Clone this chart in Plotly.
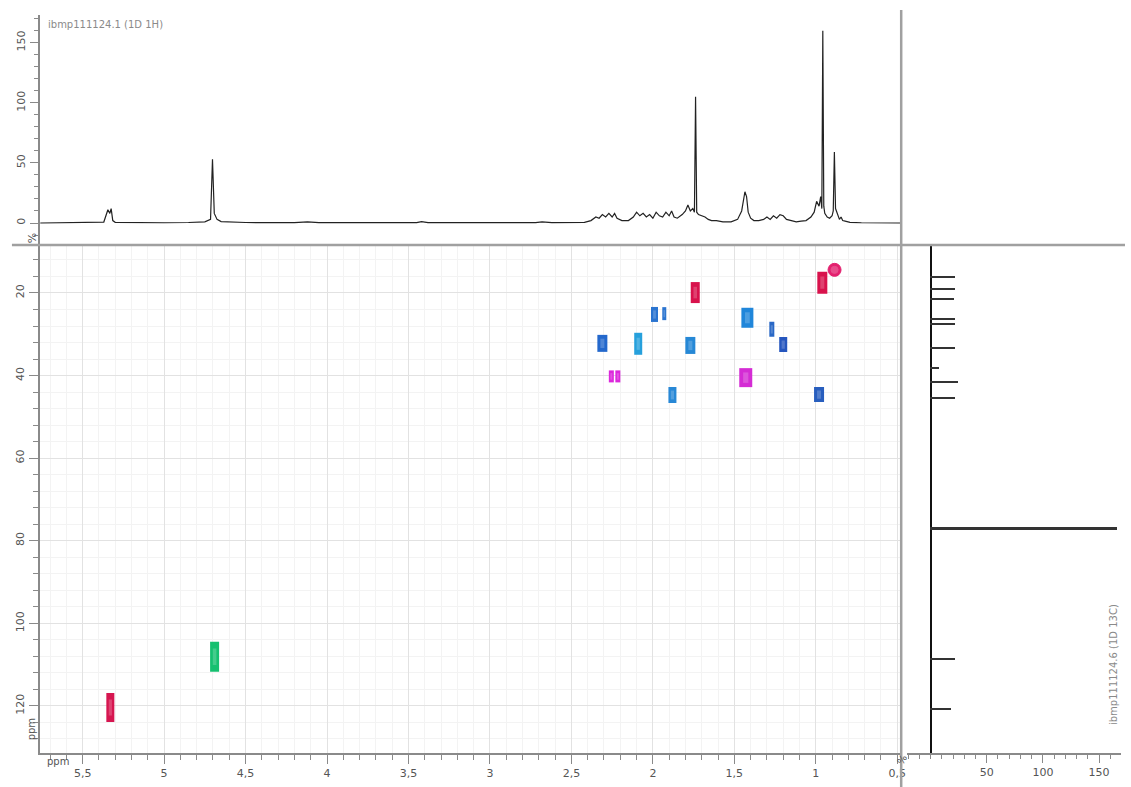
import plotly.graph_objects as go

# ---------------- data ----------------
# 1D 1H spectrum trace (ppm, intensity %)
h1_ppm = [5.76, 5.45, 5.37, 5.345, 5.333, 5.325, 5.315, 5.30, 5.2, 5.0, 4.85, 4.75, 4.715, 4.703, 4.692, 4.675, 4.65, 4.5,
          4.2, 4.12, 4.05, 3.45, 3.42, 3.38, 2.72, 2.68, 2.62, 2.42, 2.38, 2.35, 2.33, 2.31, 2.29, 2.27, 2.25, 2.235, 2.22,
          2.19, 2.15, 2.12, 2.10, 2.08, 2.06, 2.04, 2.02, 2.00, 1.98, 1.96, 1.94, 1.92, 1.90, 1.885, 1.87, 1.85,
          1.82, 1.80, 1.785, 1.77, 1.755, 1.745, 1.738, 1.731, 1.72, 1.70, 1.68, 1.66, 1.64, 1.61, 1.57, 1.52,
          1.48, 1.455, 1.435, 1.425, 1.415, 1.40, 1.38, 1.35, 1.32, 1.30, 1.28, 1.26, 1.24, 1.22, 1.20, 1.18, 1.15,
          1.12, 1.09, 1.06, 1.03, 1.01, 0.995, 0.98, 0.97, 0.963, 0.957, 0.951, 0.945, 0.93, 0.915, 0.90, 0.893,
          0.886, 0.879, 0.87, 0.855, 0.845, 0.835, 0.82, 0.79, 0.72, 0.48]
h1_int = [0, 0.3, 0.8, 11, 8, 12, 2, 0.6, 0.3, 0.2, 0.4, 1.0, 3, 53, 8, 3, 1.2, 0.4,
          0.3, 1.0, 0.3, 0.3, 1.2, 0.3, 0.3, 1.0, 0.3, 0.5, 2, 5, 4, 7, 5, 8, 5, 8, 4,
          2, 2, 5, 9, 6, 8, 5, 7, 4, 9, 6, 5, 9, 6, 10, 5, 4,
          7, 10, 15, 10, 12, 9, 105, 9, 7, 6, 5, 3, 2, 2, 1, 1,
          3, 10, 26, 22, 9, 4, 2, 2, 3, 5, 3, 6, 4, 7, 6, 3, 2,
          1, 1.5, 2, 5, 9, 18, 14, 22, 12, 160, 14, 8, 5, 4, 6, 10,
          59, 12, 8, 3, 5, 2, 1.5, 0.6, 0.2, 0]

# 1D 13C stick spectrum (ppm, intensity %)
c13_ppm = [16.1, 19.0, 21.5, 26.3, 27.5, 33.3, 38.2, 41.5, 45.4, 77.0, 108.6, 120.7]
c13_int = [22, 22, 21, 22, 22, 22, 8, 25, 22, 166, 22, 18]

# HSQC cross peaks (1H ppm, 13C ppm)
hsqc_h = [0.885, 0.96, 1.74, 1.99, 1.93, 2.31, 2.09, 1.77, 2.255, 2.215, 1.88, 1.42, 1.27, 1.20, 1.43, 0.98, 5.33, 4.69]
hsqc_c = [14.4, 17.5, 19.9, 25.2, 25.0, 32.2, 32.3, 32.7, 40.2, 40.2, 44.7, 26.0, 28.8, 32.5, 40.5, 44.6, 120.4, 108.1]

# tick labels
x_tickvals = [5.5, 5, 4.5, 4, 3.5, 3, 2.5, 2, 1.5, 1, 0.5]
x_ticktext = ["5,5", "5", "4,5", "4", "3,5", "3", "2,5", "2", "1,5", "1", "0,5"]
y_tickvals = [20, 40, 60, 80, 100, 120]
top_tickvals = [0, 50, 100, 150]
right_tickvals = [50, 100, 150]

# ---------------- styles ----------------
peak_colors = ["#e3206e", "#d8124c", "#d8124c", "#2a74d0", "#2a74d0", "#2468cc", "#26a0dc", "#2688d6",
               "#dc28dc", "#dc28dc", "#2888d6", "#2086da", "#2a68c6", "#2656be", "#d42cd4", "#285ebe",
               "#d61650", "#16c070"]
peak_w = [13, 10, 9, 7, 4, 10, 8, 10, 5, 5, 8, 12, 5, 8, 13, 10, 8, 9]   # px
peak_h = [13, 22, 21, 15, 13, 17, 22, 17, 12, 12, 16, 20, 15, 15, 19, 15, 29, 30]  # px
peak_sym = ["circle" if i == 0 else "line-ns" for i in range(len(hsqc_h))]


def lighten(hexcol, f):
    r, g, b = int(hexcol[1:3], 16), int(hexcol[3:5], 16), int(hexcol[5:7], 16)
    return "#%02x%02x%02x" % tuple(int(c + (255 - c) * f) for c in (r, g, b))


W, H = 1131, 787
def px(xp): return xp / W
def py(yp): return 1 - yp / H

FONT = "DejaVu Sans"
GRAY_TXT = "#555555"
AXIS = "#8a8a8a"

fig = go.Figure()

# HSQC peaks (outer contour body)
sizes = [h / 1.4 if s == "line-ns" else h for s, h in zip(peak_sym, peak_h)]
fig.add_trace(go.Scatter(
    x=hsqc_h, y=hsqc_c, mode="markers", xaxis="x", yaxis="y", showlegend=False, hoverinfo="x+y",
    marker=dict(symbol=peak_sym, size=sizes, color=peak_colors, opacity=1,
                line=dict(color=peak_colors, width=[1 if s == "circle" else w for s, w in zip(peak_sym, peak_w)]))))
# inner lighter contour level
inner_col = [lighten(c, 0.2) for c in peak_colors]
inner_sizes = [s * 0.55 for s in sizes]
inner_w = [1 if s == "circle" else max(1.5, w * 0.4) for s, w in zip(peak_sym, peak_w)]
fig.add_trace(go.Scatter(
    x=hsqc_h, y=hsqc_c, mode="markers", xaxis="x", yaxis="y", showlegend=False, hoverinfo="skip",
    marker=dict(symbol=peak_sym, size=inner_sizes, color=inner_col, opacity=1,
                line=dict(color=inner_col, width=inner_w))))

# top 1H spectrum
fig.add_trace(go.Scatter(x=h1_ppm, y=h1_int, mode="lines", xaxis="x2", yaxis="y2", showlegend=False,
                         line=dict(color="#222222", width=1.2)))

# right 13C stick spectrum
fig.add_trace(go.Bar(x=c13_int, y=c13_ppm, orientation="h", xaxis="x3", yaxis="y3", showlegend=False,
                     width=0.55, marker=dict(color="#333333", line=dict(width=0))))

tickfont = dict(family=FONT, size=11, color=GRAY_TXT)

fig.update_layout(
    width=W, height=H, margin=dict(l=0, r=0, t=0, b=0),
    paper_bgcolor="white", plot_bgcolor="white", bargap=0,
    xaxis=dict(domain=[px(40), px(905)], range=[5.763, 0.482], anchor="y",
               tickvals=x_tickvals, ticktext=x_ticktext, ticks="outside", ticklen=9, tickcolor=AXIS,
               tickfont=tickfont, showline=True, linecolor=AXIS, linewidth=2,
               showgrid=True, gridcolor="#e2e2e2", gridwidth=1, zeroline=False,
               minor=dict(dtick=0.1, ticks="outside", ticklen=5, tickcolor=AXIS, showgrid=True, gridcolor="#f3f3f3")),
    yaxis=dict(domain=[py(753), py(246)], range=[131.4, 8.62], anchor="x",
               tickvals=y_tickvals, tickangle=-90, ticks="outside", ticklen=9, tickcolor=AXIS,
               tickfont=tickfont, showline=True, linecolor=AXIS, linewidth=2,
               showgrid=True, gridcolor="#e2e2e2", gridwidth=1, zeroline=False,
               minor=dict(dtick=4, tick0=0, ticks="outside", ticklen=5, tickcolor=AXIS, showgrid=True, gridcolor="#f3f3f3")),
    xaxis2=dict(domain=[px(40), px(905)], matches="x", anchor="y2", visible=False),
    yaxis2=dict(domain=[py(245), py(15)], range=[-18.3, 173], anchor="x2",
                tickvals=top_tickvals, tickangle=-90, ticks="outside", ticklen=8, tickcolor=AXIS,
                tickfont=tickfont, showline=True, linecolor=AXIS, linewidth=2,
                showgrid=False, zeroline=False,
                minor=dict(dtick=10, tick0=0, ticks="outside", ticklen=4, tickcolor=AXIS)),
    xaxis3=dict(domain=[px(912), px(1127)], range=[-20.8, 169.5], anchor="y3",
                tickvals=right_tickvals, ticks="outside", ticklen=8, tickcolor=AXIS,
                tickfont=tickfont, showline=True, linecolor=AXIS, linewidth=2,
                showgrid=False, zeroline=True, zerolinecolor="#111111", zerolinewidth=2,
                minor=dict(dtick=10, tick0=0, ticks="outside", ticklen=4, tickcolor=AXIS)),
    yaxis3=dict(domain=[py(753), py(246)], matches="y", anchor="x3", showticklabels=False,
                showline=False, showgrid=False, zeroline=False, ticks=""),
)

# separators
fig.add_shape(type="line", xref="paper", yref="paper", x0=px(12), x1=1, y0=py(245), y1=py(245),
              line=dict(color="#a0a0a0", width=2.5))
fig.add_shape(type="line", xref="paper", yref="paper", x0=px(906), x1=px(906), y0=0, y1=py(10),
              line=dict(color="#a0a0a0", width=2.5))

small = dict(family=FONT, size=10, color="#8a8a8a")
fig.add_annotation(text="ibmp111124.1 (1D 1H)", xref="paper", yref="paper", x=px(46), y=py(25),
                   xanchor="left", yanchor="middle", showarrow=False, font=small)
fig.add_annotation(text="ibmp111124.6 (1D 13C)", xref="paper", yref="paper", x=px(1119), y=py(665),
                   xanchor="center", yanchor="middle", showarrow=False, textangle=-90, font=small)
fig.add_annotation(text="%", xref="paper", yref="paper", x=px(24), y=py(231), showarrow=False,
                   textangle=-90, font=tickfont)
fig.add_annotation(text="ppm", xref="paper", yref="paper", x=px(24), y=py(742), showarrow=False,
                   textangle=-90, font=dict(family=FONT, size=10, color=GRAY_TXT))
fig.add_annotation(text="ppm", xref="paper", yref="paper", x=px(45), y=py(769), showarrow=False,
                   font=dict(family=FONT, size=10, color=GRAY_TXT))
fig.add_annotation(text="%", xref="paper", yref="paper", x=px(917), y=py(769), showarrow=False,
                   textangle=-60, font=dict(family=FONT, size=10, color=GRAY_TXT))

fig.write_html("out.html", config={"displayModeBar": False},
               post_script="document.body.style.margin='0px';document.body.style.overflow='hidden';")
